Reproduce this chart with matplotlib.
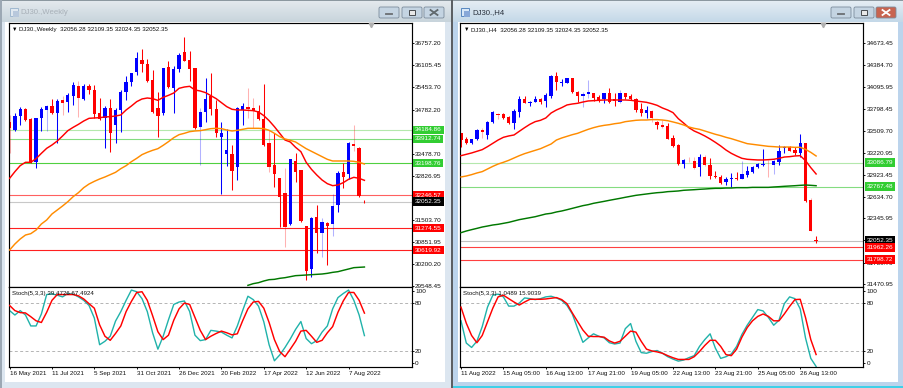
#!/usr/bin/env python3
"""Two MT4 chart windows side by side: DJ30 weekly and DJ30 H4."""
import matplotlib
matplotlib.use("Agg")
import matplotlib.pyplot as plt
import matplotlib.patches as mpatches
import numpy as np

plt.rcParams['font.family'] = ['Liberation Sans', 'DejaVu Sans']

W, H = 904, 388
UP = '#0000ff'
DOWN = '#ff0000'

# --- weekly window ---
wk_open = [34426,34179,34594,34792,34505,33241,34545,34772,34890,34673,35068,35019,35197,35483,35088,35483,35364,34673,34525,34841,34327,34772,35315,35592,35908,36253,36135,35661,34841,34693,36036,35414,35987,36480,36244,36016,34268,34713,35187,34792,33962,33468,33468,33093,34772,34851,34841,34742,34505,33804,33142,32747,32303,31385,33261,32994,31335,30051,31592,31138,31414,31394,31957,32945,32876,33765,33656,32056.28]
wk_close = [34229,34594,34792,34476,33212,34525,34792,34900,34673,35039,34989,35216,35513,35137,35483,35364,34644,34495,34821,34100,34772,35315,35611,35858,36303,36135,35631,34723,34594,36016,35443,35977,36401,36234,35977,34229,34713,35088,34792,34081,34081,33587,32975,34821,34900,34802,34752,34495,33735,33093,32866,32204,31315,33310,32945,31493,30012,31562,31138,31444,31345,31928,32895,32797,33804,33705,32224,32052.35]
wk_high = [34624,34693,34851,34821,34520,34535,34851,34930,35098,35098,35187,35266,35611,35631,35542,35542,35503,35118,34890,35098,34821,35364,35779,35878,36490,36579,36273,35957,35315,36030,36234,36085,36471,36945,36520,36030,34821,35710,35858,35068,34426,34199,33735,34851,34970,35414,35137,34920,35532,34179,34081,32760,33044,33320,33508,33005,31345,31592,31957,31562,31444,32283,32965,33192,33815,34327,33686,32109.35]
wk_low = [33488,34150,34327,34456,33192,33044,34160,34150,34653,33784,34624,34723,34920,34574,35068,35246,34525,34476,33636,33537,33804,34130,35068,35483,35809,35908,35611,34693,33982,34624,35424,34673,35908,36214,35641,34209,33142,34426,34624,33982,32273,33123,32402,32698,34327,34525,34229,34476,33715,32945,32500,31295,30703,31365,32649,31464,29735,29834,30525,30426,30180,31039,31760,32451,32718,33567,32204,32024.35]
wk_ma_red = [32747,32945,33123,33222,33222,33330,33488,33636,33735,33853,34002,34160,34258,34347,34446,34525,34535,34545,34565,34574,34594,34624,34772,34890,35019,35098,35127,35108,35058,35147,35206,35276,35414,35453,35473,35364,35335,35286,35197,35108,34989,34871,34792,34772,34772,34762,34752,34713,34604,34456,34278,34081,33883,33824,33666,33537,33222,33014,32846,32698,32589,32530,32550,32619,32718,32777,32747,32688]
wk_ma_orange = [30624,30802,30950,31068,31108,31216,31394,31513,31691,31809,31928,32056,32204,32323,32471,32579,32658,32728,32787,32856,32925,33034,33123,33241,33340,33449,33518,33577,33626,33725,33834,33952,34041,34081,34130,34150,34160,34189,34219,34229,34219,34179,34150,34170,34199,34229,34229,34229,34219,34170,34081,33982,33913,33873,33824,33725,33626,33547,33468,33389,33310,33261,33261,33261,33261,33251,33222,33172]
# the long average only enters the pane at bar 45
wk_ma_green = [29577,29627,29656,29706,29745,29755,29785,29804,29834,29864,29873,29883,29893,29903,29913,29933,29962,29982,30022,30061,30101,30111,30120]
wk_stoch_main = [70.6,65.1,70.6,65.1,51.5,51.5,66.4,90.6,91.5,89.8,87.7,91.9,91.1,87.7,83.4,77.0,61.3,28.1,32.4,38.7,57.5,69.4,83.4,96.2,94.1,85.5,69.4,43.0,22.6,38.7,59.2,78.3,81.3,82.6,69.4,40.0,33.2,34.5,46.0,45.1,43.8,40.0,36.6,51.5,70.6,88.5,84.3,76.2,56.6,28.1,8.1,15.3,24.7,35.3,47.2,57.0,35.8,29.4,33.2,43.8,51.5,72.8,86.8,91.9,96.2,83.4,65.1,39.47]
wk_stoch_signal = [77.0,70.6,68.1,67.7,63.0,57.9,55.8,68.5,83.4,90.6,90.6,90.6,90.6,89.0,85.1,79.2,73.6,52.8,38.7,33.6,42.1,51.5,69.4,82.1,93.2,94.1,83.4,64.3,44.3,34.5,40.0,58.7,72.8,80.0,78.3,62.1,46.0,34.5,38.7,42.1,45.1,43.0,40.4,41.7,57.9,72.8,81.3,82.1,73.6,55.8,34.5,19.6,13.2,22.6,32.4,45.1,46.0,38.7,31.1,33.6,43.0,50.7,68.5,82.6,93.2,93.2,83.4,67.49]
wk_faint = [0,7,10,13,36,45,46,49,52,59,61,65]
wk_xlabels = ['16 May 2021','11 Jul 2021','5 Sep 2021','31 Oct 2021','26 Dec 2021','20 Feb 2022','17 Apr 2022','12 Jun 2022','7 Aug 2022']
wk_yticks = [36757.20,36105.45,35453.70,34782.20,34130.45,33478.70,32826.95,32175.20,31503.70,30851.95,30200.20,29548.45]
wk_levels = [34184.86,33912.74,33198.76,32246.57,32052.35,31274.55,30619.92]
wk_level_colors = ['#b4e8ac','#84dc80','#50d040','#ff6060','#c8c8c8','#ff2020','#ff2020']
wk_box_colors = ['#32cd32','#32cd32','#32cd32','#ff0000','#000000','#ff0000','#ff0000']

# --- H4 window ---
h4_open = [33477,33397,33344,33397,33521,33455,33623,33734,33730,33698,33610,33765,33929,33880,33898,33938,33911,33978,34239,34150,34150,34208,34022,33978,34000,34009,33955,33929,34009,33929,33898,34009,33978,33938,33796,33743,33778,33628,33592,33575,33415,33322,33074,33114,33109,33034,33167,33056,32914,32901,32835,32875,32888,32875,32923,32963,33030,33056,33074,33056,33100,33282,33295,33255,33216,33348,32591,32056.28]
h4_close = [33388,33344,33397,33521,33495,33632,33765,33716,33685,33610,33774,33929,33885,33898,33933,33898,33986,34243,34164,34164,34208,34022,33978,33995,34026,33942,33920,34009,33898,33911,34009,33964,33929,33787,33743,33787,33676,33583,33561,33406,33313,33069,33123,33105,33021,33167,33056,32910,32901,32817,32870,32888,32870,32937,32976,33034,33065,33069,33065,33109,33242,33295,33247,33220,33348,32578,32183,32052.35]
h4_high = [33486,33424,33406,33535,33543,33645,33774,33743,33743,33712,33796,33973,33973,33911,33978,33951,34009,34252,34297,34195,34217,34217,34040,34031,34186,34017,33986,34017,34084,34009,34053,34017,34004,33947,33885,33840,33787,33645,33654,33619,33455,33331,33132,33158,33158,33198,33189,33145,32981,32919,32892,32945,32967,33109,33043,33047,33087,33269,33123,33132,33318,33304,33309,33300,33468,33353,32613,32109.35]
h4_low = [33300,33335,33340,33388,33411,33397,33610,33663,33672,33597,33530,33690,33876,33845,33889,33862,33831,33942,34053,34106,34141,34017,33898,33831,33942,33911,33898,33876,33876,33840,33876,33929,33920,33765,33707,33685,33632,33530,33543,33397,33300,33056,33012,33092,32999,32914,33043,32866,32879,32804,32790,32768,32857,32866,32901,32954,33012,33047,32901,32932,33056,33220,33238,33189,33167,32569,32175,32024.35]
h4_ma_red = [33180,33198,33216,33238,33260,33300,33344,33388,33424,33442,33455,33504,33552,33597,33632,33650,33681,33747,33787,33818,33854,33867,33876,33893,33907,33911,33916,33920,33920,33920,33920,33920,33916,33907,33898,33889,33871,33849,33814,33787,33752,33672,33614,33552,33508,33477,33442,33402,33357,33309,33255,33211,33176,33145,33132,33127,33123,33123,33127,33132,33145,33162,33167,33176,33180,33114,33021,32937]
h4_ma_orange = [32897,32910,32928,32950,32968,33003,33038,33069,33092,33118,33149,33180,33207,33229,33251,33273,33304,33335,33388,33415,33437,33459,33477,33504,33530,33552,33570,33583,33592,33605,33614,33632,33641,33650,33654,33654,33659,33659,33654,33645,33628,33610,33588,33561,33543,33530,33508,33486,33464,33446,33424,33406,33384,33362,33340,33331,33322,33313,33304,33300,33295,33295,33295,33291,33291,33264,33224,33176]
h4_ma_green = [32157,32179,32197,32214,32232,32245,32259,32268,32281,32294,32312,32330,32343,32356,32369,32387,32405,32414,32432,32445,32462,32480,32498,32516,32529,32547,32560,32573,32587,32600,32613,32627,32640,32653,32662,32671,32680,32688,32693,32702,32706,32711,32720,32724,32728,32733,32737,32742,32746,32746,32750,32750,32755,32755,32755,32759,32759,32759,32759,32764,32768,32773,32777,32781,32786,32790,32786,32781]
h4_stoch_main = [57.9,30.2,24.7,32.4,50.6,74.9,89.8,91.1,87.7,76.2,76.2,80.0,86.4,85.5,84.3,85.5,87.7,88.5,86.4,83.4,77.0,66.4,48.5,31.1,36.6,41.7,38.7,36.6,30.6,29.0,30.2,48.1,54.5,32.4,18.3,17.5,19.6,20.9,17.5,13.2,10.2,7.7,9.0,12.0,14.5,26.0,34.5,41.7,23.8,11.1,13.2,16.6,26.0,40.9,52.4,62.1,71.9,70.2,62.1,52.4,58.7,79.2,87.7,85.5,72.8,36.6,11.1,1.05]
h4_stoch_signal = [74.9,54.9,39.6,30.6,39.6,56.6,73.6,87.7,89.8,85.5,81.3,77.5,81.3,84.7,84.7,84.7,85.1,86.0,86.8,84.3,79.2,67.7,57.0,46.4,38.7,38.3,38.3,37.5,32.8,30.2,32.4,38.7,45.1,43.8,32.4,22.6,20.4,19.2,17.5,14.5,11.9,9.8,9.8,9.8,13.2,19.6,27.2,33.6,33.6,26.0,15.8,14.5,22.6,37.5,49.4,57.9,63.4,66.4,63.4,57.9,57.9,66.4,75.8,84.3,84.7,62.1,34.5,15.90]
h4_faint = [4,7,23,24,30,36,38,43,44,46,53,58,59,66]
h4_xlabels = ['11 Aug 2022','15 Aug 05:00','16 Aug 13:00','17 Aug 21:00','19 Aug 05:00','22 Aug 13:00','23 Aug 21:00','25 Aug 05:00','26 Aug 13:00']
h4_yticks = [34673.45,34384.70,34095.95,33798.45,33509.70,33220.95,32923.45,32634.70,32345.95,32057.20,31759.70,31470.95]
h4_levels = [33086.79,32767.48,32052.35,31962.26,31798.72]
h4_level_colors = ['#b4e8ac','#84dc80','#c0c0c0','#ff4040','#ff4040']
h4_box_colors = ['#32cd32','#32cd32','#000000','#ff0000','#ff0000']


def px_axes(fig, x0, y0, x1, y1):
    return fig.add_axes([x0 / W, 1 - y1 / H, (x1 - x0) / W, (y1 - y0) / H])


def draw_candles(ax, o, h, l, c, faint):
    o, h, l, c = map(np.array, (o, h, l, c))
    idx = np.arange(len(o))
    colors = np.where(c >= o, UP, DOWN)
    for i in idx:
        ax.vlines(i, l[i], h[i], color=colors[i], lw=0.75,
                  alpha=0.3 if i in faint else 1, zorder=2)
    ax.bar(idx, np.abs(c - o), bottom=np.minimum(o, c), width=0.62,
           color=colors, linewidth=0, zorder=2)


def draw_chart(fig, x0, x1, first_px, step_px, ylim, series, levels, level_cols,
               box_cols, yticks, xlabels, stoch, stoch_title, header, faint, green_start):
    xlim = ((x0 - first_px) / step_px, (x1 - first_px) / step_px)
    o, h, l, c = series[:4]
    ax = px_axes(fig, x0, 23.3, x1, 287)
    ax.set_xlim(xlim)
    ax.set_ylim(ylim)
    for lev, col in zip(levels, level_cols):
        ax.axhline(lev, color=col, lw=0.8, zorder=1)
    draw_candles(ax, o, h, l, c, faint)
    idx = np.arange(len(o))
    ax.plot(idx, series[4], color='#ff0000', lw=1.05, zorder=3)
    ax.plot(idx, series[5], color='#ff8c00', lw=1.05, zorder=3)
    ax.plot(idx[green_start:], series[6], color='#007800', lw=1.05, zorder=3)
    ax.yaxis.tick_right()
    ax.set_yticks(yticks)
    ax.set_yticklabels([f'{v:.2f}' for v in yticks])
    ax.tick_params(axis='y', length=1.5, width=0.7, pad=1, labelsize=4.6, colors='#101010')
    ax.set_xticks([])
    trans = ax.get_yaxis_transform()
    for lev, col in zip(levels, box_cols):
        ax.text(1.0085, lev, f'{lev:.2f}', transform=trans, fontsize=4.6, color='white',
                va='center', ha='left', clip_on=False, zorder=6,
                bbox=dict(boxstyle='square,pad=0.28', fc=col, ec='none'))
    ax.text(0.0265, 0.9765, header, transform=ax.transAxes, fontsize=4.45, color='#101010',
            va='center', ha='left')
    ax.text(0.0095, 0.9765, '▼', transform=ax.transAxes, fontsize=4, color='black',
            va='center', ha='left')

    sub = px_axes(fig, x0, 287, x1, 367.3)
    sub.set_xlim(xlim)
    sub.set_ylim(0, 100)
    sub.axhline(80, color='#b4b4b4', lw=0.7, ls=(0, (3, 2.5)), zorder=1)
    sub.axhline(20, color='#b4b4b4', lw=0.7, ls=(0, (3, 2.5)), zorder=1)
    sub.plot(idx, stoch[0], color='#20b2aa', lw=1.0, zorder=2)
    sub.plot(idx, stoch[1], color='#ff0000', lw=1.05, zorder=3)
    sub.yaxis.tick_right()
    # 100 and 0 sit inside the pane, so their ticks are pulled in from the edges
    sub.set_yticks([94.5, 80, 20, 5.5])
    sub.set_yticklabels(['100', '80', '20', '0'])
    sub.tick_params(axis='y', length=1.5, width=0.7, pad=1, labelsize=4.6, colors='#101010')
    sub.set_xticks(np.arange(len(xlabels)) * 8)
    sub.set_xticklabels(xlabels, ha='left')
    sub.tick_params(axis='x', length=1.5, width=0.7, pad=1.2, labelsize=4.5, colors='#101010')
    sub.text(0.0075, 0.925, stoch_title, transform=sub.transAxes, fontsize=4.45,
             color='#101010', va='center', ha='left')
    for a in (ax, sub):
        for sp in a.spines.values():
            sp.set_linewidth(0.85)


def draw_window(bg, x0, x1, active):
    top = '#e6eef4' if active else '#e4eaee'
    bottom = '#c4d8e8' if active else '#c8d4dc'
    grad = np.linspace(0, 1, 22)[:, None, None]
    c0 = np.array(matplotlib.colors.to_rgb(top))
    c1 = np.array(matplotlib.colors.to_rgb(bottom))
    bg.imshow(c0 * (1 - grad) + c1 * grad, extent=(x0, x1, 22, 0), aspect='auto', zorder=1)
    bg.add_patch(mpatches.Rectangle((x0, 0), x1 - x0, 1.2, fc='#8c98a0', ec='none', zorder=2))
    # buttons: minimise, restore, close
    bx = [x1 - 72, x1 - 49, x1 - 27]
    faces = ['#c4d4e2', '#c4d4e2', '#c86450' if active else '#c4d4e2']
    for b, f in zip(bx, faces):
        bg.add_patch(mpatches.FancyBboxPatch((b, 7), 20, 11, boxstyle='round,pad=0,rounding_size=1.5',
                                             fc=f, ec='#7c8c9c', lw=0.6, zorder=2))
    ic = '#484c50'
    bg.add_patch(mpatches.Rectangle((bx[0] + 6.5, 12.5), 7, 1.6, fc='#e8e8e8', ec=ic, lw=0.5, zorder=3))
    bg.add_patch(mpatches.Rectangle((bx[1] + 7, 10), 6, 5, fc='#e8e8e8', ec=ic, lw=0.7, zorder=3))
    xc, yc = bx[2] + 10, 12.5
    bg.plot([xc - 3.5, xc + 3.5], [yc - 2.5, yc + 2.5], color='white' if active else '#60686c', lw=1.3, zorder=3)
    bg.plot([xc - 3.5, xc + 3.5], [yc + 2.5, yc - 2.5], color='white' if active else '#60686c', lw=1.3, zorder=3)
    # window icon
    bg.add_patch(mpatches.Rectangle((x0 + 8, 8), 8, 8, fc='#d8e8f8' if active else '#e0e8f0',
                                    ec='#5888c0' if active else '#a0b8d0', lw=0.7, zorder=3))
    bg.add_patch(mpatches.Rectangle((x0 + 11, 11), 6, 6, fc='#88a8d8' if active else '#b8c8dc',
                                    ec='none', zorder=3))


fig = plt.figure(figsize=(W / 100, H / 100), dpi=100, facecolor='#d8e4f0')
bg = fig.add_axes([0, 0, 1, 1])
bg.set_xlim(0, W)
bg.set_ylim(H, 0)
bg.axis('off')

# window bodies and separator
bg.add_patch(mpatches.Rectangle((0, 0), 451, H, fc='#dce6f0', ec='none', zorder=0))
bg.add_patch(mpatches.Rectangle((453, 0), W - 453, H, fc='#bcd4ec', ec='none', zorder=0))
bg.add_patch(mpatches.Rectangle((451, 0), 2.2, H, fc='#5c6064', ec='none', zorder=4))
bg.add_patch(mpatches.Rectangle((0, 0), 2.2, H, fc='#9ca8b4', ec='none', zorder=4))
bg.add_patch(mpatches.Rectangle((5.5, 21.5), 440, 360.5, fc='white', ec='none', zorder=1))
bg.add_patch(mpatches.Rectangle((458, 21.5), 440, 360.5, fc='white', ec='none', zorder=1))
bg.add_patch(mpatches.Rectangle((453, 386), W - 453, 2, fc='#40d0e8', ec='none', zorder=4))
draw_window(bg, 2, 451, False)
draw_window(bg, 453, W - 1, True)
bg.set_xlim(0, W)
bg.set_ylim(H, 0)
bg.text(20, 13, 'DJ30.,Weekly', fontsize=5.6, color='#a8b0b8', va='center', ha='left', zorder=5)
bg.text(472, 13, 'DJ30.,H4', fontsize=5.6, color='#28303c', va='center', ha='left', zorder=5)

draw_chart(fig, 8.5, 411.7, 9.6, 5.296, (29528, 37340),
           (wk_open, wk_high, wk_low, wk_close, wk_ma_red, wk_ma_orange, wk_ma_green),
           wk_levels, wk_level_colors, wk_box_colors, wk_yticks, wk_xlabels,
           (wk_stoch_main, wk_stoch_signal), 'Stoch(5,3,3) 39.4726 67.4924',
           'DJ30.,Weekly  32056.28 32109.35 32024.35 32052.35', wk_faint, 45)
draw_chart(fig, 460, 863.3, 461, 5.3, (31435, 34939),
           (h4_open, h4_high, h4_low, h4_close, h4_ma_red, h4_ma_orange, h4_ma_green),
           h4_levels, h4_level_colors, h4_box_colors, h4_yticks, h4_xlabels,
           (h4_stoch_main, h4_stoch_signal), 'Stoch(5,3,3) 1.0489 15.9039',
           'DJ30.,H4  32056.28 32109.35 32024.35 32052.35', h4_faint, 0)

# chart-shift markers at the top of each pane
top = fig.add_axes([0, 0, 1, 1], facecolor='none')
top.set_xlim(0, W)
top.set_ylim(H, 0)
top.axis('off')
top.plot([370.7, 822.7], [25, 25], ls='none', marker='v', ms=3.2, color='#b0b0b0')

fig.savefig('out.png', dpi=100)
